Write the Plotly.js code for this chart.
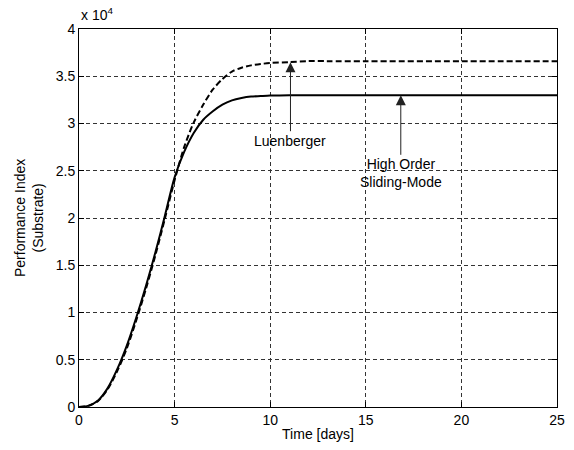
<!DOCTYPE html>
<html>
<head>
<meta charset="utf-8">
<script src="https://cdn.plot.ly/plotly-3.0.1.min.js"></script>
<style>html,body{margin:0;padding:0;background:#fff;}#chart{width:574px;height:450px;}</style>
</head>
<body>
<div id="chart"></div>
<script>
// Time [days]
var timeDays = [0, 0.5, 1, 1.5, 2, 2.5, 3, 3.5, 4, 4.5, 5, 5.5, 6, 6.5, 7, 7.5, 8, 8.5, 9, 9.5, 10, 11, 12, 13, 15, 20, 25];
// High Order Sliding-Mode (x 10^4)
var slidingMode = [0, 0.015, 0.07, 0.2, 0.4, 0.65, 0.95, 1.28, 1.64, 2.03, 2.43, 2.7, 2.9, 3.04, 3.13, 3.2, 3.245, 3.27, 3.285, 3.29, 3.295, 3.3, 3.3, 3.3, 3.3, 3.3, 3.3];
// Luenberger (x 10^4)
var luenberger = [0, 0.012, 0.065, 0.19, 0.38, 0.62, 0.92, 1.25, 1.61, 2.0, 2.4, 2.75, 3.01, 3.2, 3.36, 3.47, 3.55, 3.59, 3.615, 3.63, 3.64, 3.65, 3.66, 3.66, 3.66, 3.66, 3.66];
var xTicks = [0, 5, 10, 15, 20, 25];
var yTicks = [0, 0.5, 1, 1.5, 2, 2.5, 3, 3.5, 4];
var yTickText = ['0', '0.5', '1', '1.5', '2', '2.5', '3', '3.5', '4'];

var font = {family: "'Liberation Sans', Arial, Helvetica, sans-serif", size: 14, color: '#000'};

var traces = [
  {x: timeDays, y: luenberger, mode: 'lines', name: 'Luenberger',
   line: {color: '#000', width: 2, dash: '6px,3px', shape: 'spline', smoothing: 0.8}},
  {x: timeDays, y: slidingMode, mode: 'lines', name: 'High Order Sliding-Mode',
   line: {color: '#000', width: 2, shape: 'spline', smoothing: 0.8}}
];

var axisCommon = {
  showline: true, linecolor: '#000', linewidth: 1, mirror: 'ticks',
  ticks: 'inside', ticklen: 5, tickcolor: '#000', tickwidth: 1,
  showgrid: true, gridcolor: '#333', gridwidth: 1, griddash: '4px,3px',
  zeroline: false, tickfont: font
};

var layout = {
  width: 574, height: 450,
  margin: {l: 79, r: 17, t: 29, b: 43},
  paper_bgcolor: '#fff', plot_bgcolor: '#fff',
  showlegend: false,
  font: font,
  xaxis: Object.assign({}, axisCommon, {
    range: [0, 25], tickvals: xTicks, ticktext: xTicks.map(String),
    title: {text: 'Time [days]', font: font, standoff: 2}
  }),
  yaxis: Object.assign({}, axisCommon, {
    range: [0, 4], tickvals: yTicks, ticktext: yTickText
  }),
  annotations: [
    {xref: 'paper', yref: 'paper', x: 0, y: 1, yshift: 4, xanchor: 'left', yanchor: 'bottom',
     text: 'x 10<sup>4</sup>', showarrow: false, font: font},
    {xref: 'paper', yref: 'paper', x: -0.1046, y: 0.5, xanchor: 'center', yanchor: 'middle',
     text: 'Performance Index<br>(Substrate)', textangle: -90, showarrow: false, font: font},
    {x: 11.06, y: 3.648, xref: 'x', yref: 'y', axref: 'x', ayref: 'y', ax: 11.06, ay: 2.818,
     text: 'Luenberger', showarrow: true, arrowhead: 2, arrowsize: 2, arrowwidth: 1,
     arrowcolor: '#222', standoff: 0, startstandoff: 0, font: font},
    {x: 16.83, y: 3.30, xref: 'x', yref: 'y', axref: 'x', ayref: 'y', ax: 16.83, ay: 2.473,
     text: 'High Order<br>Sliding-Mode', showarrow: true, arrowhead: 2, arrowsize: 2, arrowwidth: 1,
     arrowcolor: '#222', standoff: 0, startstandoff: 0, font: font}
  ]
};

Plotly.newPlot('chart', traces, layout, {displayModeBar: false, staticPlot: true});
</script>
</body>
</html>
